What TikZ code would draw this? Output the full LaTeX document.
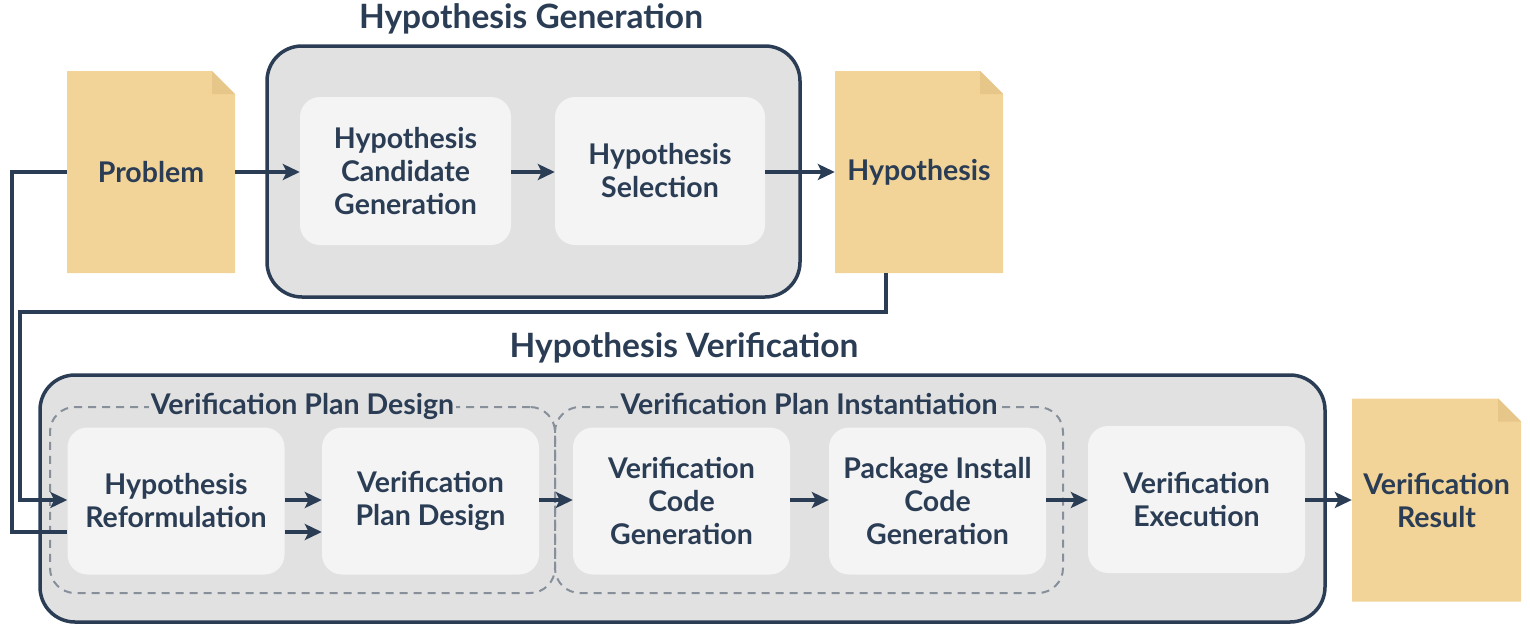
\documentclass[tikz,border=0pt]{standalone}
\usepackage{fontspec}
\setmainfont{Lato}
\usetikzlibrary{arrows.meta}
\definecolor{navy}{HTML}{2B3D54}
\definecolor{outerfill}{HTML}{E1E1E1}
\definecolor{innerfill}{HTML}{F4F4F4}
\definecolor{dashgray}{HTML}{868F9A}
\definecolor{docfill}{HTML}{F2D498}
\definecolor{foldfill}{HTML}{E7C68A}
\tikzset{
  outerbox/.style={draw=navy, line width=3.5pt, fill=outerfill, rounded corners=35pt, inner sep=0pt},
  innerbox/.style={fill=innerfill, rounded corners=20pt, minimum width=217pt, minimum height=147pt, inner sep=0pt,
    align=center, text=navy, font=\fontsize{28.5}{33}\selectfont\bfseries},
  dashbox/.style={draw=dashgray, line width=2pt, dash pattern=on 8pt off 6pt, rounded corners=25pt, inner sep=0pt,
    minimum height=186pt},
  dashlabel/.style={fill=outerfill, text=navy, inner sep=2pt, anchor=base, font=\fontsize{28.5}{33}\selectfont\bfseries},
  title/.style={text=navy, anchor=base, font=\fontsize{33.5}{38}\selectfont\bfseries},
  doc/.style={minimum width=168pt, minimum height=202pt, inner sep=0pt, align=center, text=navy,
    font=\fontsize{28.5}{33}\selectfont\bfseries,
    path picture={
      \fill[docfill] (path picture bounding box.south west) -- (path picture bounding box.north west)
        -- ([xshift=-23pt]path picture bounding box.north east) -- ([yshift=-23pt]path picture bounding box.north east)
        -- (path picture bounding box.south east) -- cycle;
      \fill[foldfill] ([xshift=-23pt]path picture bounding box.north east) -- ([xshift=-23pt,yshift=-23pt]path picture bounding box.north east)
        -- ([yshift=-23pt]path picture bounding box.north east) -- cycle;
    }},
  link/.style={draw=navy, line width=3.6pt},
  arr/.style={link, -{Stealth[length=17pt, width=16pt, inset=4pt]}},
}
\begin{document}
\begin{tikzpicture}[x=1pt, y=-1pt]
\useasboundingbox (0,0) rectangle (1530,630);
% outer boxes
\node[outerbox, minimum width=533pt, minimum height=251pt] (hg) at (533.5,171.5) {};
\node[outerbox, minimum width=1285pt, minimum height=247pt] (hv) at (682.5,498.5) {};
\node[title] (hgt) at (531,28) {Hypothesis Generation};
\node[title] (hvt) at (684,357) {Hypothesis Verification};
% dashed groups
\node[dashbox, minimum width=505pt] (dz1) at (302.5,500) {};
\node[dashbox, minimum width=508pt] (dz2) at (809,500) {};
\node[dashlabel] (dl1) at ([yshift=-8pt]dz1.north) {Verification Plan Design};
\node[dashlabel] (dl2) at ([yshift=-8pt]dz2.north) {Verification Plan Instantiation};
% inner boxes
\node[innerbox, minimum width=211pt, minimum height=148pt] (hcg) at (405.5,171) {Hypothesis\\Candidate\\Generation};
\node[innerbox, minimum width=210pt, minimum height=148pt] (hsel) at (660,171) {Hypothesis\\Selection};
\node[innerbox] (hr) at (176,501) {Hypothesis\\Reformulation};
\node[innerbox] (vpd) at (430.5,501) {Verification\\Plan Design};
\node[innerbox] (vcg) at (681.5,501) {Verification\\Code\\Generation};
\node[innerbox] (picg) at (937.5,501) {Package Install\\Code\\Generation};
\node[innerbox] (ve) at (1196.5,499.5) {Verification\\Execution};
% documents
\node[doc] (prob) at (151,172) {Problem};
\node[doc] (hyp) at (919,172) {Hypothesis};
\node[doc, minimum width=169pt, minimum height=203pt] (vr) at (1436.5,500) {Verification\\Result};
% connectors
\coordinate (j1) at (20,312);
\coordinate (j2) at (12,532);
\draw[arr] (prob.east) -- (hcg.west |- prob.east);
\draw[arr] (hcg.east |- prob.east) -- (hsel.west |- prob.east);
\draw[arr] (hsel.east |- prob.east) -- (hyp.west);
\draw[arr] ([xshift=-33pt]hyp.south) |- (j1) -- (j1 |- 0,500) -- (hr.west |- 0,500);
\draw[link] (prob.west) -| (j2) -- (j2 -| hr.west);
\draw[arr] (hr.east |- 0,500) -- (vpd.west |- 0,500);
\draw[arr] (hr.east |- j2) -- (vpd.west |- j2);
\draw[arr] (vpd.east |- 0,500) -- (vcg.west |- 0,500);
\draw[arr] (vcg.east |- 0,500) -- (picg.west |- 0,500);
\draw[arr] (picg.east |- 0,500) -- (ve.west |- 0,500);
\draw[arr] (ve.east |- 0,500) -- (vr.west |- 0,500);
\end{tikzpicture}
\end{document}
